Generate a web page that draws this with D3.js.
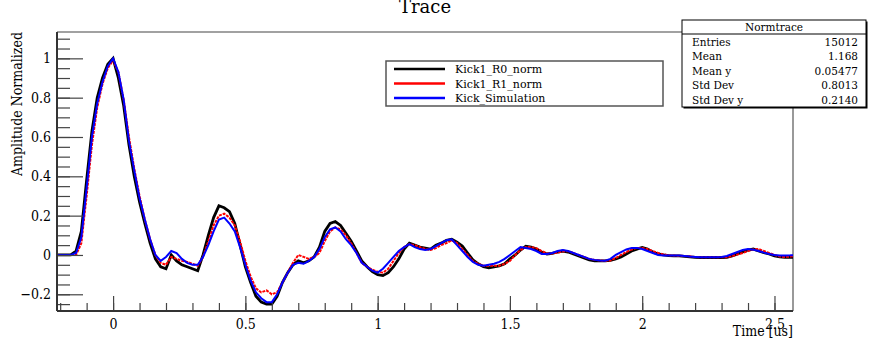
<!DOCTYPE html>
<html>
<head>
<meta charset="utf-8">
<script src="https://cdn.jsdelivr.net/npm/d3@7"></script>
<style>
  html, body { margin: 0; padding: 0; background: #fff; }
  svg { display: block; }
  text { font-family: "DejaVu Serif", serif; fill: #000; }
  .cond { font-family: "DejaVu Serif Condensed", "DejaVu Serif", serif; }
</style>
</head>
<body>
<svg id="chart" width="870" height="342"></svg>
<script>
// Time bins (us): first bin centre and bin width
const tStart = -0.22;
const tStep = 0.02;

// Kick1_R0_norm (measured, channel 0)
const r0Norm = [
  0, 0, 0, 0, 0.02, 0.12, 0.38, 0.63, 0.80, 0.90,
  0.97, 1.00, 0.90, 0.76, 0.56, 0.40, 0.27, 0.16, 0.06, -0.02,
  -0.06, -0.07, 0.0, -0.03, -0.05, -0.06, -0.07, -0.08, 0.0, 0.10,
  0.19, 0.25, 0.24, 0.22, 0.16, 0.05, -0.06, -0.14, -0.21, -0.24,
  -0.25, -0.25, -0.21, -0.14, -0.09, -0.05, -0.03, -0.04, -0.03, -0.01,
  0.04, 0.12, 0.16, 0.17, 0.15, 0.11, 0.07, 0.02, -0.03, -0.06,
  -0.085, -0.10, -0.105, -0.09, -0.06, -0.02, 0.03, 0.06, 0.05, 0.04,
  0.035, 0.03, 0.05, 0.06, 0.075, 0.08, 0.065, 0.045, 0.01, -0.025,
  -0.045, -0.06, -0.065, -0.06, -0.055, -0.045, -0.02, 0.0, 0.025, 0.045,
  0.04, 0.03, 0.015, 0.005, 0.008, 0.015, 0.02, 0.015, 0.005, -0.005,
  -0.015, -0.025, -0.03, -0.03, -0.03, -0.028, -0.02, -0.01, 0.005, 0.02,
  0.03, 0.038, 0.03, 0.015, 0.005, 0.0, -0.003, -0.005, -0.005, -0.007,
  -0.01, -0.012, -0.013, -0.013, -0.013, -0.013, -0.013, -0.012, -0.005, 0.005,
  0.015, 0.025, 0.03, 0.02, 0.012, 0.005, -0.005, -0.01, -0.012, -0.012,
  -0.012
];

// Kick1_R1_norm (measured, channel 1)
const r1Norm = [
  0, 0, 0, 0, 0.0, 0.06, 0.30, 0.56, 0.75, 0.87,
  0.95, 0.99, 0.93, 0.79, 0.60, 0.44, 0.30, 0.18, 0.08, 0.00,
  -0.04, -0.05, -0.01, -0.02, -0.03, -0.035, -0.045, -0.055, -0.01, 0.07,
  0.15, 0.20, 0.21, 0.19, 0.15, 0.07, -0.03, -0.11, -0.17, -0.19,
  -0.18, -0.20, -0.19, -0.14, -0.09, -0.04, 0.0, -0.01, -0.02, -0.01,
  0.01, 0.07, 0.12, 0.14, 0.13, 0.10, 0.06, 0.01, -0.04, -0.06,
  -0.075, -0.085, -0.09, -0.07, -0.03, 0.01, 0.04, 0.055, 0.05, 0.04,
  0.03, 0.025, 0.035, 0.05, 0.06, 0.075, 0.06, 0.03, 0.0, -0.03,
  -0.045, -0.055, -0.055, -0.055, -0.055, -0.045, -0.03, 0.0, 0.025, 0.04,
  0.04, 0.035, 0.02, 0.008, 0.008, 0.012, 0.018, 0.02, 0.01, 0.0,
  -0.01, -0.02, -0.025, -0.028, -0.03, -0.028, -0.015, 0.0, 0.015, 0.028,
  0.035, 0.036, 0.03, 0.02, 0.01, 0.003, -0.002, -0.003, -0.004, -0.005,
  -0.007, -0.01, -0.012, -0.012, -0.012, -0.012, -0.012, -0.012, -0.005, 0.002,
  0.01, 0.02, 0.028, 0.03, 0.02, 0.01, 0.0, -0.008, -0.01, -0.008,
  -0.005
];

// Kick_Simulation
const simNorm = [
  0, 0, 0, 0, 0.01, 0.09, 0.34, 0.60, 0.77, 0.88,
  0.96, 1.00, 0.93, 0.79, 0.58, 0.43, 0.29, 0.18, 0.08, 0.00,
  -0.03, -0.01, 0.02, 0.01, -0.02, -0.04, -0.05, -0.05, -0.01, 0.05,
  0.12, 0.18, 0.19, 0.16, 0.12, 0.04, -0.05, -0.13, -0.19, -0.22,
  -0.24, -0.24, -0.20, -0.14, -0.09, -0.05, -0.04, -0.045, -0.03, -0.01,
  0.03, 0.09, 0.13, 0.14, 0.12, 0.08, 0.05, 0.01, -0.04, -0.06,
  -0.08, -0.09, -0.07, -0.04, -0.01, 0.02, 0.04, 0.055, 0.04, 0.03,
  0.025, 0.03, 0.045, 0.06, 0.075, 0.08, 0.05, 0.02, -0.01, -0.035,
  -0.05, -0.055, -0.05, -0.045, -0.035, -0.02, 0.00, 0.02, 0.04, 0.035,
  0.03, 0.02, 0.005, 0.005, 0.01, 0.02, 0.025, 0.02, 0.01, 0.0,
  -0.01, -0.02, -0.025, -0.028, -0.029, -0.02, 0.0, 0.015, 0.028, 0.035,
  0.036, 0.03, 0.02, 0.01, 0.0, -0.003, -0.003, -0.003, -0.003, -0.005,
  -0.008, -0.01, -0.012, -0.012, -0.012, -0.012, -0.01, -0.005, 0.005, 0.015,
  0.025, 0.03, 0.027, 0.02, 0.012, 0.005, 0.0, -0.003, -0.003, -0.002,
  0.0
];

const seriesNames = ["Kick1_R0_norm", "Kick1_R1_norm", "Kick_Simulation"];
const seriesColors = ["#000000", "#ff0000", "#0000ff"];

// Statistics box
const statsTitle = "Normtrace";
const statsLabels = ["Entries", "Mean", "Mean y", "Std Dev", "Std Dev y"];
const statsValues = ["15012", "1.168", "0.05477", "0.8013", "0.2140"];

const xMajorTicks = [0, 0.5, 1, 1.5, 2, 2.5];
const yMajorTicks = [-0.2, 0, 0.2, 0.4, 0.6, 0.8, 1];

const svg = d3.select("#chart");
const frame = { left: 57, right: 793, top: 32, bottom: 311 };

const x = d3.scaleLinear().domain([-0.212, 2.57]).range([frame.left, frame.right]);
const y = d3.scaleLinear().domain([-0.285, 1.134]).range([frame.bottom, frame.top]);

const toPoints = vals => vals.map((v, i) => [tStart + i * tStep, v]);

svg.append("defs").append("clipPath").attr("id", "plotClip")
  .append("rect")
  .attr("x", frame.left).attr("y", frame.top)
  .attr("width", frame.right - frame.left).attr("height", frame.bottom - frame.top);

// Frame (top and right edges)
svg.append("line").attr("x1", frame.left).attr("x2", frame.right)
  .attr("y1", frame.top).attr("y2", frame.top)
  .attr("stroke", "#444").attr("stroke-width", 1.2);
svg.append("line").attr("x1", frame.right).attr("x2", frame.right)
  .attr("y1", frame.top).attr("y2", frame.bottom)
  .attr("stroke", "#777").attr("stroke-width", 1.5);

// Curves
const plot = svg.append("g").attr("clip-path", "url(#plotClip)");
const line = d3.line().x(d => x(d[0])).y(d => y(d[1])).curve(d3.curveLinear);

plot.append("path").datum(toPoints(r0Norm))
  .attr("d", line).attr("fill", "none")
  .attr("stroke", seriesColors[0]).attr("stroke-width", 2.8)
  .attr("stroke-linejoin", "miter");
plot.append("path").datum(toPoints(r1Norm))
  .attr("d", line).attr("fill", "none")
  .attr("stroke", seriesColors[1]).attr("stroke-width", 2)
  .attr("stroke-dasharray", "3,1");
plot.append("path").datum(toPoints(simNorm))
  .attr("d", line).attr("fill", "none")
  .attr("stroke", seriesColors[2]).attr("stroke-width", 2);

// X axis: ticks point up into the frame
const xMinor = d3.range(-2, 26).map(i => i / 10).filter(v => x(v) > frame.left + 1);
const xAxisMajor = d3.axisBottom(x).tickValues(xMajorTicks).tickSize(-15).tickFormat(d3.format("~g")).tickPadding(8);
const xAxisMinor = d3.axisBottom(x).tickValues(xMinor).tickSize(-8).tickFormat("");
const gxMinor = svg.append("g").attr("transform", `translate(0,${frame.bottom})`).call(xAxisMinor);
const gx = svg.append("g").attr("transform", `translate(0,${frame.bottom})`).call(xAxisMajor);
[gx, gxMinor].forEach(g => {
  g.select(".domain").remove();
  g.selectAll(".tick line").attr("stroke", "#444").attr("stroke-width", 1.2);
});
gx.selectAll(".tick text").attr("class", "cond").attr("font-size", 14).attr("fill", "#000");

// Y axis: ticks point right into the frame
const yMinor = d3.range(-5, 23).map(i => i / 20).filter(v => y(v) < frame.bottom - 1 && y(v) > frame.top + 1);
const yAxisMajor = d3.axisLeft(y).tickValues(yMajorTicks).tickSize(-26).tickFormat(d3.format("~g")).tickPadding(6);
const yAxisMinor = d3.axisLeft(y).tickValues(yMinor).tickSize(-13).tickFormat("");
const gyMinor = svg.append("g").attr("transform", `translate(${frame.left},0)`).call(yAxisMinor);
const gy = svg.append("g").attr("transform", `translate(${frame.left},0)`).call(yAxisMajor);
[gy, gyMinor].forEach(g => {
  g.select(".domain").remove();
  g.selectAll(".tick line").attr("stroke", "#444").attr("stroke-width", 1.2);
});
gy.selectAll(".tick text").attr("class", "cond").attr("font-size", 14).attr("fill", "#000");

// Axis lines
svg.append("line").attr("x1", frame.left).attr("x2", frame.right)
  .attr("y1", frame.bottom).attr("y2", frame.bottom)
  .attr("stroke", "#333").attr("stroke-width", 2);
svg.append("line").attr("x1", frame.left).attr("x2", frame.left)
  .attr("y1", frame.top).attr("y2", frame.bottom)
  .attr("stroke", "#333").attr("stroke-width", 2);

// Axis titles
svg.append("text").attr("class", "cond")
  .attr("x", frame.right).attr("y", 336)
  .attr("text-anchor", "end").attr("font-size", 14)
  .text("Time [us]");
svg.append("text").attr("class", "cond")
  .attr("transform", `translate(22,${frame.top}) rotate(-90)`)
  .attr("text-anchor", "end").attr("font-size", 14)
  .text("Amplitude Normalized");

// Title
svg.append("text")
  .attr("x", 425).attr("y", 13)
  .attr("text-anchor", "middle").attr("font-size", 18)
  .text("Trace");

// Legend
const leg = { x: 386, y: 61, w: 277, h: 45 };
svg.append("rect").attr("x", leg.x).attr("y", leg.y).attr("width", leg.w).attr("height", leg.h)
  .attr("fill", "#fff").attr("stroke", "#555").attr("stroke-width", 1.5);
seriesNames.forEach((name, i) => {
  const ly = 69 + i * 14.5;
  svg.append("line").attr("x1", 394).attr("x2", 445).attr("y1", ly).attr("y2", ly)
    .attr("stroke", seriesColors[i]).attr("stroke-width", 2.5);
  svg.append("text").attr("x", 455).attr("y", ly + 4).attr("font-size", 11).text(name);
});

// Statistics box
const sb = { x: 682, y: 20, w: 184, h: 87 };
svg.append("rect").attr("x", sb.x + 1.5).attr("y", sb.y + 1.5).attr("width", sb.w).attr("height", sb.h)
  .attr("fill", "#000");
svg.append("rect").attr("x", sb.x).attr("y", sb.y).attr("width", sb.w).attr("height", sb.h)
  .attr("fill", "#fff").attr("stroke", "#000").attr("stroke-width", 1);
svg.append("line").attr("x1", sb.x).attr("x2", sb.x + sb.w).attr("y1", sb.y + 14).attr("y2", sb.y + 14)
  .attr("stroke", "#000").attr("stroke-width", 1);
svg.append("text").attr("x", sb.x + sb.w / 2).attr("y", sb.y + 11)
  .attr("text-anchor", "middle").attr("font-size", 10.5).text(statsTitle);
statsLabels.forEach((lab, i) => {
  const ty = sb.y + 26 + i * 14.4;
  svg.append("text").attr("x", sb.x + 10).attr("y", ty).attr("font-size", 10.5).text(lab);
  svg.append("text").attr("x", sb.x + sb.w - 8).attr("y", ty)
    .attr("text-anchor", "end").attr("font-size", 10.5).text(statsValues[i]);
});
</script>
</body>
</html>
